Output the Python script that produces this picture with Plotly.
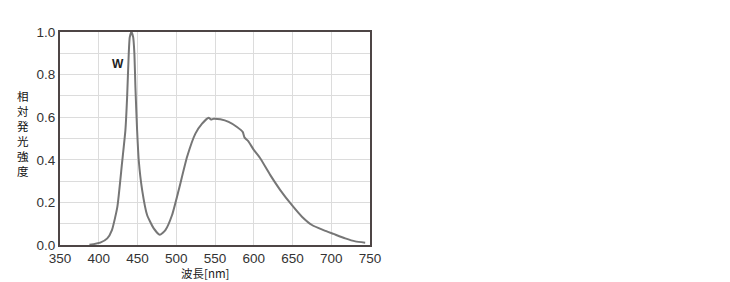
import plotly.graph_objects as go

wavelength = [388, 402, 411, 417, 424, 430, 434.4, 436.6, 438.7, 440.0, 442.2, 444.4, 446.0, 447.3,
              449.5, 451.6, 456, 462.4, 470.9, 478.7, 486, 494.6, 503.2, 514, 524.7, 533.3,
              541.8, 544.9, 548.3, 556.9, 567.6, 578.4, 585.7, 588.2, 592.6, 599.8, 608.5,
              621.4, 634.2, 649.3, 662.2, 675.1, 690.1, 703, 718.1, 731, 743.8]
intensity = [0.001, 0.011, 0.031, 0.070, 0.179, 0.383, 0.539, 0.695, 0.898, 0.976, 1.0, 0.976, 0.898, 0.741,
             0.539, 0.398, 0.258, 0.141, 0.078, 0.048, 0.070, 0.141, 0.258, 0.414, 0.523, 0.570,
             0.598, 0.589, 0.593, 0.590, 0.578, 0.554, 0.531, 0.504, 0.489, 0.448, 0.406,
             0.328, 0.258, 0.187, 0.133, 0.094, 0.070, 0.052, 0.031, 0.017, 0.011]
x_ticks = [350, 400, 450, 500, 550, 600, 650, 700, 750]
y_ticks = [0.0, 0.2, 0.4, 0.6, 0.8, 1.0]
y_ticklabels = ["0.0", "0.2", "0.4", "0.6", "0.8", "1.0"]
series_label = "W"
x_title = "波長[nm]"
y_title = "相対発光強度"

W, H = 730, 282
ML, MR, MT, MB = 60, 360, 32, 37
PW, PH = W - ML - MR, H - MT - MB


def px_to_paper(px, py):
    return (px - ML) / PW, 1 - (py - MT) / PH


fig = go.Figure()
fig.add_trace(go.Scatter(
    x=wavelength, y=intensity, mode="lines",
    line=dict(color="#767676", width=2, shape="spline", smoothing=0.5),
    showlegend=False, hoverinfo="skip"))

font_tick = dict(family="Liberation Sans, Arial, sans-serif", size=13.5, color="#333333")
xt, yt = px_to_paper(205, 272.5)
xy, yy = px_to_paper(23, 133)
fig.update_layout(
    width=W, height=H,
    margin=dict(l=ML, r=MR, t=MT, b=MB),
    paper_bgcolor="white", plot_bgcolor="white",
    xaxis=dict(range=[350, 750], tickvals=x_ticks, showgrid=True, gridcolor="#dcdcdc", gridwidth=1,
               showline=True, mirror=True, linecolor="#4d4545", linewidth=2, ticks="",
               tickfont=font_tick, zeroline=False),
    yaxis=dict(range=[0, 1], tickvals=y_ticks, ticktext=y_ticklabels, showgrid=True,
               gridcolor="#dcdcdc", gridwidth=1,
               minor=dict(dtick=0.1, showgrid=True, gridcolor="#dcdcdc", gridwidth=1),
               showline=True, mirror=True, linecolor="#4d4545", linewidth=2, ticks="",
               tickfont=font_tick, zeroline=False),
    annotations=[
        dict(x=425.4, y=0.848, xref="x", yref="y", text="<b>" + series_label + "</b>", showarrow=False,
             font=dict(family="Liberation Sans, Arial, sans-serif", size=12, color="#222222")),
        dict(x=xt, y=yt, xref="paper", yref="paper", xanchor="center", yanchor="middle",
             text=x_title, showarrow=False,
             font=dict(family="Noto Sans CJK JP", size=11.5, color="#222222")),
        dict(x=xy, y=yy, xref="paper", yref="paper", xanchor="center", yanchor="middle",
             text="<br>".join(list(y_title)), showarrow=False,
             font=dict(family="Noto Sans CJK JP", size=11.5, color="#111111")),
    ],
)

fig.write_html("out.html")
